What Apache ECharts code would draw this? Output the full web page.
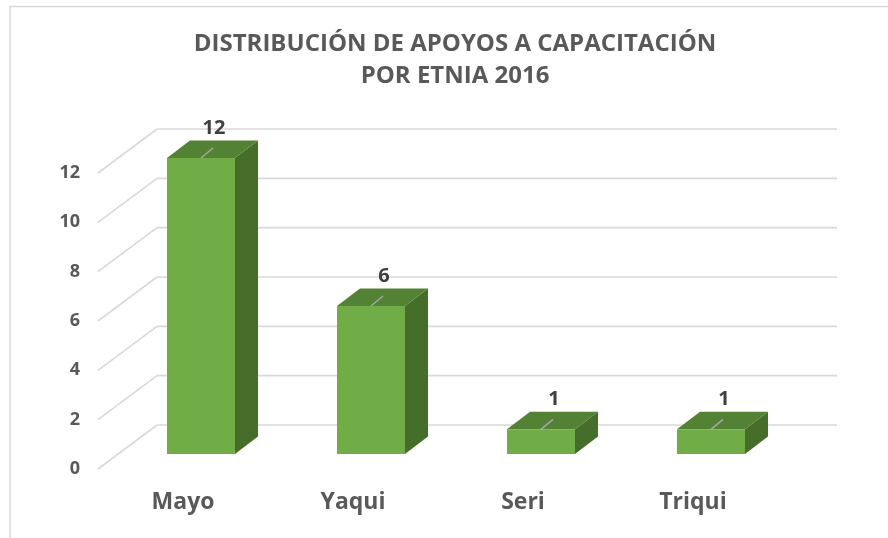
<!DOCTYPE html>
<html>
<head>
<meta charset="utf-8">
<script src="https://cdn.jsdelivr.net/npm/echarts@6/dist/echarts.min.js"></script>
<style>html,body{margin:0;padding:0;background:#fff}#c{width:888px;height:538px}</style>
</head>
<body>
<div id="c"></div>
<script>
const titleLines = ['DISTRIBUCIÓN DE APOYOS A CAPACITACIÓN', 'POR ETNIA 2016'];
const categories = ['Mayo', 'Yaqui', 'Seri', 'Triqui'];
const values = [12, 6, 1, 1];
const yTicks = [0, 2, 4, 6, 8, 10, 12];

const WALL_DX = 59, WALL_DY = -44;   // depth of the back wall
const BAR_DX = 18, BAR_DY = -15;     // bar set back from front plane
const BAR_W = 68;                    // bar front face width
const SIDE_DX = 23, SIDE_DY = -17.5; // bar depth

const chart = echarts.init(document.getElementById('c'));

function renderWall(params, api) {
  const cs = params.coordSys;
  const v = api.value(1);
  const p = api.coord([0, v]);
  const x0 = cs.x, y0 = p[1];
  const bx = x0 + WALL_DX, by = y0 + WALL_DY;
  const style = { stroke: '#d9d9d9', lineWidth: 1.6, fill: null };
  return {
    type: 'group',
    children: [
      { type: 'line', shape: { x1: x0, y1: y0, x2: bx, y2: by }, style },
      { type: 'line', shape: { x1: bx, y1: by, x2: bx + cs.width, y2: by }, style }
    ]
  };
}

function renderBar(params, api) {
  const i = api.value(0), v = api.value(1);
  const b = api.coord([i, 0]);
  const t = api.coord([i, v]);
  const cx = b[0] + BAR_DX;
  const yb = b[1] + BAR_DY;
  const yt = t[1] + BAR_DY;
  const xl = cx - BAR_W / 2, xr = cx + BAR_W / 2;
  return {
    type: 'group',
    children: [
      { type: 'polygon', shape: { points: [[xr, yb], [xr + SIDE_DX, yb + SIDE_DY], [xr + SIDE_DX, yt + SIDE_DY], [xr, yt]] },
        style: { fill: '#476d2b' } },
      { type: 'polygon', shape: { points: [[xl, yt], [xr, yt], [xr + SIDE_DX, yt + SIDE_DY], [xl + SIDE_DX, yt + SIDE_DY]] },
        style: { fill: '#548235' } },
      { type: 'rect', shape: { x: xl, y: yt, width: BAR_W, height: yb - yt },
        style: { fill: '#70ad47' } },
      { type: 'line', shape: { x1: cx, y1: yt, x2: cx + 12, y2: yt - 10 },
        style: { stroke: '#a6a6a6', lineWidth: 1.5 } },
      { type: 'text', x: cx + 13, y: yt - 30,
        style: { text: String(v), fill: '#404040', font: 'bold 20px "Open Sans", sans-serif', align: 'center', verticalAlign: 'middle' } }
    ]
  };
}

chart.setOption({
  animation: false,
  backgroundColor: '#ffffff',
  graphic: [
    { type: 'rect', shape: { x: 10, y: 6.5, width: 1000, height: 700 }, style: { fill: null, stroke: '#d9d9d9', lineWidth: 1.5 }, z: -10 },
    { type: 'text', x: 455, y: 28, style: { text: titleLines.join('\n'), fill: '#595959', font: 'bold 24px "Open Sans", sans-serif', align: 'center', lineHeight: 32 } }
  ],
  grid: { left: 98, right: 110, top: 173, bottom: 69 },
  xAxis: {
    type: 'category',
    data: categories,
    axisLine: { show: false },
    axisTick: { show: false },
    axisLabel: { color: '#595959', fontSize: 23, fontWeight: 'bold', fontFamily: '"Open Sans", sans-serif', margin: 22 }
  },
  yAxis: {
    type: 'value',
    min: 0, max: 12, interval: 2,
    axisLine: { show: false },
    axisTick: { show: false },
    splitLine: { show: false },
    axisLabel: { color: '#595959', fontSize: 18, fontWeight: 'bold', fontFamily: '"Open Sans", sans-serif', margin: 18 }
  },
  series: [
    { type: 'custom', z: 1, silent: true, renderItem: renderWall, data: yTicks.map(v => [0, v]) },
    { type: 'custom', z: 2, renderItem: renderBar, data: values.map((v, i) => [i, v]) }
  ]
});
</script>
</body>
</html>
